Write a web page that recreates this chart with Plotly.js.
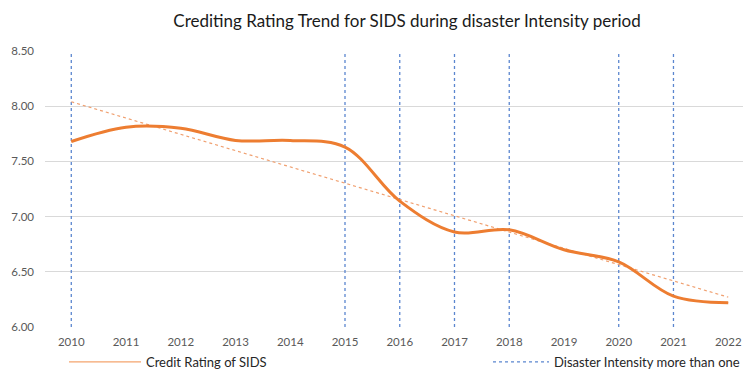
<!DOCTYPE html>
<html>
<head>
<meta charset="utf-8">
<script src="https://cdn.plot.ly/plotly-3.0.1.min.js"></script>
<style>html,body{margin:0;padding:0;background:#fff;}#chart{width:743px;height:369px;}</style>
</head>
<body>
<div id="chart"></div>
<script>
// ---- data ----
const years = ['2010','2011','2012','2013','2014','2015','2016','2017','2018','2019','2020','2021','2022'];
const creditRating = [7.68, 7.81, 7.80, 7.69, 7.69, 7.63, 7.14, 6.86, 6.88, 6.70, 6.59, 6.28, 6.22];
const trendYears = ['2010', '2022'];
const trendValues = [8.04, 6.27];
const disasterYears = ['2010','2015','2016','2017','2018','2020','2021'];
const disasterRange = [6.0, 8.5];
const yTickVals = [6.0, 6.5, 7.0, 7.5, 8.0, 8.5];
const yTickText = ['6.00','6.50','7.00','7.50','8.00','8.50'];

// build vertical marker lines from the data
const dx = [], dy = [];
disasterYears.forEach(y => { dx.push(y, y, null); dy.push(disasterRange[0], disasterRange[1], null); });

const FONT = 'Lato, "Open Sans", sans-serif';
const ORANGE = '#ED7D31';

const traces = [
  {
    x: dx, y: dy, type: 'scatter', mode: 'lines',
    name: 'Disaster Intensity more than one',
    line: {color: '#5B86CF', width: 1.3, dash: 'dot'},
    legend: 'legend2', hoverinfo: 'skip'
  },
  {
    x: trendYears, y: trendValues, type: 'scatter', mode: 'lines',
    name: 'Trend', showlegend: false,
    line: {color: '#F0A070', width: 1.2, dash: 'dot'}
  },
  {
    // thin copy underneath the main line: supplies the thin legend sample
    x: years, y: creditRating, type: 'scatter', mode: 'lines',
    name: 'Credit Rating of SIDS', showlegend: true,
    line: {color: '#F4A46E', width: 1.3, shape: 'spline', smoothing: 1},
    legend: 'legend'
  },
  {
    x: years, y: creditRating, type: 'scatter', mode: 'lines',
    name: 'Credit Rating of SIDS', showlegend: false,
    line: {color: ORANGE, width: 3, shape: 'spline', smoothing: 1}
  }
];

const layout = {
  width: 743, height: 369,
  margin: {l: 45, r: 0, t: 51, b: 42},
  paper_bgcolor: '#ffffff', plot_bgcolor: '#ffffff',
  font: {family: FONT, color: '#595959', size: 12},
  title: {
    text: 'Crediting Rating Trend for SIDS during disaster Intensity period',
    font: {family: FONT, size: 17, color: '#1a1a1a'},
    x: 407/743, xanchor: 'center', xref: 'container',
    y: 1 - 21/369, yanchor: 'middle', yref: 'container'
  },
  xaxis: {
    type: 'category', categoryarray: years, categoryorder: 'array',
    range: [-0.48, 12.27],
    showgrid: false, zeroline: false, showline: false,
    ticks: '', tickfont: {family: FONT, size: 11.5, color: '#595959'},
    ticklabelstandoff: 6
  },
  yaxis: {
    range: [6.0, 8.5],
    tickvals: yTickVals, ticktext: yTickText,
    showgrid: true, gridcolor: '#D9D9D9', gridwidth: 1,
    zeroline: false, showline: false, ticks: '',
    tickfont: {family: FONT, size: 11.5, color: '#595959'},
    ticklabelstandoff: 10
  },
  legend: {
    orientation: 'h', xref: 'container', yref: 'container',
    x: 64/743, xanchor: 'left', y: 1 - 362/369, yanchor: 'middle',
    itemwidth: 72, font: {family: FONT, size: 13, color: '#262626'},
    bgcolor: 'rgba(0,0,0,0)', tracegroupgap: 0
  },
  legend2: {
    orientation: 'h', xref: 'container', yref: 'container',
    x: 488/743, xanchor: 'left', y: 1 - 362/369, yanchor: 'middle',
    itemwidth: 56, font: {family: FONT, size: 13, color: '#262626'},
    bgcolor: 'rgba(0,0,0,0)'
  },
  showlegend: true
};

Plotly.newPlot('chart', traces, layout, {displayModeBar: false, staticPlot: true});
</script>
</body>
</html>
